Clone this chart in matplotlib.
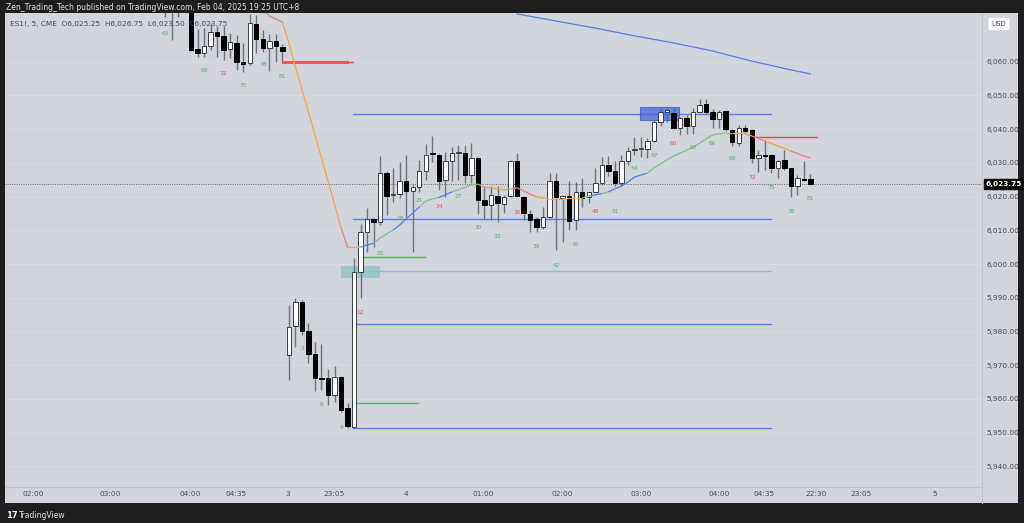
import numpy as np
import matplotlib
matplotlib.use("Agg")
import matplotlib.pyplot as plt
from matplotlib.patches import Rectangle
from matplotlib.collections import LineCollection
import matplotlib.transforms as mtrans

# ── DATA ──────────────────────────────────────────────────────────────────
opens = [6079, 6075.5, 6078, 6076, 6076, 6063.75, 6062.5, 6064.75, 6068.75, 6067.75,
         6063.75, 6065.5, 6060, 6059.5, 6071.25, 6066.75, 6064, 6066.25, 6064.5,
         5973, 5981.5, 5988.75, 5980, 5973.25, 5966.25, 5966.25, 5961, 5966.5, 5957.25, 5951.75,
         5997.5, 6009.5, 6013.5, 6012.5, 6027, 6020.5, 6020.75, 6024.75, 6021.75, 6022.75,
         6027.5, 6032.75, 6032.25, 6025, 6030.5, 6033, 6033, 6026.5, 6031.5,
         6019, 6017.5, 6020.25, 6017.75, 6020.25, 6030.5, 6020, 6014.75, 6013.25, 6011,
         6014, 6024.5, 6019.5, 6020.25, 6013, 6021.5, 6019.75, 6021.5, 6024, 6029.5, 6027.5,
         6024, 6030.5, 6033.75, 6034, 6034, 6036.5, 6042, 6045.25, 6044.75, 6040.5,
         6043.25, 6041, 6045, 6047.5, 6045.25, 6043, 6045.5, 6039.75, 6036, 6040.5,
         6039.75, 6031.5, 6032.25, 6032.25, 6028.5, 6030.75, 6028.5, 6023, 6025.25, 6025.25]
highs = [6081, 6080, 6080, 6079, 6079, 6069.75, 6070, 6071.5, 6070.75, 6070.75,
         6068.5, 6068, 6065.5, 6074.25, 6074, 6069.5, 6068.25, 6068.25, 6065.25,
         5987.75, 5990, 5989.25, 5982.5, 5976.75, 5976.25, 5968.75, 5969.75, 5966.75, 5958.75, 6001.75,
         6012, 6016.5, 6013.75, 6032, 6027.5, 6028.5, 6030.25, 6032.25, 6023.5, 6031,
         6035.5, 6038, 6032.5, 6033.25, 6034.75, 6035.25, 6035.25, 6036, 6031.75,
         6023, 6023, 6023, 6020.5, 6031, 6033, 6020.25, 6016, 6014, 6017,
         6027, 6027, 6020.5, 6024.5, 6024.25, 6025.5, 6021.5, 6028.5, 6031.75, 6032, 6030.5,
         6032.25, 6034.75, 6037.75, 6037.75, 6037.5, 6042.75, 6046.25, 6046.25, 6046.25, 6043.5,
         6044.25, 6046.25, 6049, 6049, 6046, 6045.75, 6045.75, 6040, 6041.25, 6041.25,
         6040, 6033.75, 6036.75, 6032.5, 6031, 6033.75, 6028.5, 6026.5, 6030.5, 6026.75]
lows = [6073.25, 6066.5, 6073.25, 6074.75, 6063.25, 6061.5, 6061.5, 6063.5, 6061.5, 6060.5,
        6061, 6057.5, 6057, 6059, 6062.75, 6063, 6057.25, 6060, 6060,
        5965.5, 5975.5, 5979, 5970.5, 5962.25, 5962.5, 5958.25, 5959, 5956, 5951.25, 5951.25,
        5990, 6003.5, 6005, 6011.5, 6014.5, 6018.5, 6019.5, 6014, 6003.5, 6021.5,
        6025, 6030.25, 6022, 6020, 6024.5, 6025, 6024, 6024, 6014.75,
        6013.5, 6013, 6012.5, 6015, 6020, 6020, 6013, 6009.5, 6009.5, 6010.5,
        6013.75, 6004.25, 6006.5, 6010, 6010, 6017, 6018, 6021, 6023.5, 6026, 6023,
        6023, 6029.5, 6032.25, 6031.75, 6031.5, 6036.25, 6041, 6042.25, 6040, 6038.25,
        6038.5, 6038.5, 6044.75, 6044.5, 6040.25, 6040.25, 6039.5, 6035, 6035, 6039,
        6030, 6027.25, 6028, 6027, 6025.5, 6028, 6020, 6020.5, 6024.75, 6023.5]
closes = [6077, 6078, 6076, 6077.5, 6063.5, 6062.5, 6064.75, 6068.75, 6067.75, 6063.5,
          6065.75, 6060, 6059.25, 6071.5, 6066.75, 6064, 6066.25, 6064.75, 6063.25,
          5981.25, 5988.75, 5980, 5973.25, 5966.25, 5966, 5961.25, 5966.5, 5956.75, 5952, 5997.75,
          6009.5, 6013.5, 6012.5, 6027, 6020.25, 6020.75, 6024.75, 6021.75, 6022.75, 6027.5,
          6032.25, 6032.5, 6024.75, 6030.5, 6033, 6033.25, 6026.5, 6031.5, 6019,
          6017.5, 6020.5, 6018, 6020, 6030.5, 6020.25, 6015, 6013, 6011, 6014,
          6024.5, 6019.75, 6020.25, 6012.75, 6021.25, 6019.5, 6021.25, 6024, 6029.5, 6027.5, 6024,
          6030.5, 6033.5, 6034, 6034.25, 6036.5, 6042, 6045, 6045.5, 6040.5, 6043.25,
          6041, 6045, 6047.25, 6045.25, 6043, 6045.25, 6040, 6036.25, 6040.5, 6039.5,
          6031.5, 6032.25, 6032, 6028.5, 6030.5, 6028.5, 6023, 6025.5, 6025, 6023.75]

# colored moving average, bars 15..99
ma_start = 15
ma_vals = [6075.4, 6073.6, 6072.7, 6071.8, 6065.6, 6058.5, 6051.9, 6045.1, 6038.3, 6031.5,
           6024.6, 6017.8, 6010.7, 6005.0, 6004.9, 6005.0, 6005.6, 6006.2, 6007.7, 6008.9,
           6010.1, 6011.6, 6013.4, 6015.1, 6016.9, 6018.7, 6019.3, 6019.7, 6020.5, 6021.4,
           6022.0, 6022.8, 6023.4, 6023.7, 6022.8, 6022.6, 6022.3, 6022.0, 6022.3, 6022.6,
           6021.7, 6020.8, 6019.9, 6019.6, 6019.3, 6019.3, 6019.3, 6019.4, 6019.6, 6019.6,
           6020.2, 6020.5, 6020.9, 6021.4, 6022.3, 6023.1, 6024.3, 6025.8, 6026.4, 6027.0,
           6028.5, 6029.7, 6030.9, 6032.0, 6032.9, 6033.8, 6034.7, 6035.9, 6037.1, 6038.3,
           6038.6, 6038.9, 6038.9, 6038.9, 6038.6, 6038.0, 6037.2, 6036.5, 6035.8, 6035.0,
           6034.3, 6033.5, 6032.8, 6032.0, 6031.5]
ma_trend = ("rrr" + "ooooooooo" + "r" + "oo" + "bb" + "ggg" + "bbbb" + "ggg" + "bb" + "gggg"
            + "oooo" + "g" + "rrrr" + "ooooooo" + "g" + "bb" + "g" + "bbbbbb"
            + "ggggggggggggg" + "ooo" + "rr" + "oooo" + "rrr")

# slow average (top right)
slow_bars = [54, 60, 66, 72, 78, 84, 90, 96, 99]
slow_vals = [6074.2, 6072.1, 6070.0, 6067.7, 6065.6, 6063.2, 6060.2, 6057.6, 6056.4]

# bar count labels
count_bars = [0, 6, 9, 12, 15, 18, 21, 24, 27, 30, 33, 36, 39, 42, 45, 48, 51, 54, 57, 60,
              63, 66, 69, 72, 75, 78, 81, 84, 87, 90, 93, 96, 99]
count_nums = [63, 69, 72, 75, 78, 81, 3, 6, 9, 12, 15, 18, 21, 24, 27, 30, 33, 36, 39, 42,
              45, 48, 51, 54, 57, 60, 63, 66, 69, 72, 75, 78, 81]
count_lvls = [6068.5, 6057.3, 6056.4, 6053.1, 6059.3, 6055.5, 5974.8, 5958.2, 5951.6, 5985.5,
              6003.0, 6013.6, 6018.7, 6017.2, 6019.9, 6010.7, 6008.3, 6015.4, 6005.3, 5999.7,
              6005.9, 6015.7, 6015.7, 6028.2, 6032.3, 6035.9, 6034.7, 6035.9, 6031.2, 6025.8,
              6022.8, 6015.7, 6019.3]

# drawn horizontal levels: price, from bar, to bar, kind
lvl_price = [6044.5, 6013.25, 5997.9, 5982.25, 5951.25, 6002.0, 5958.75, 6037.75]
lvl_from = [28.8, 28.8, 30.2, 29.3, 28.8, 30.2, 29.3, 90.0]
lvl_to = [92.9, 92.9, 92.9, 92.9, 92.9, 39.9, 38.8, 100.0]
lvl_kind = ["blue", "blue", "pale", "blue", "blue", "green", "green", "red"]

# time axis
time_pos = [-20.2, -8.4, 3.8, 10.9, 18.9, 25.9, 37.0, 48.8, 60.9, 73.0, 85.0, 91.9, 99.8, 106.7, 118.0]
time_lbl = ["02:00", "03:00", "04:00", "04:35", "3", "23:05", "4", "01:00", "02:00",
            "03:00", "04:00", "04:35", "22:30", "23:05", "5"]
price_ticks = np.arange(5940, 6061, 10)
last_price = 6023.75

# ── STYLE ─────────────────────────────────────────────────────────────────
BG = "#d1d4dc"
DARK = "#1e1e1e"
TXT = "#4a4d57"
COL = {"o": "#f5a33a", "g": "#7cc47f", "b": "#4f7cf0", "r": "#f27b80"}
LVL = {"blue": "#5a7ee8", "pale": "#9db6cc", "green": "#5fb86a", "red": "#e2474f"}

W, H = 1024, 523

def box(x0, y0, x1, y1):
    return [x0 / W, 1 - y1 / H, (x1 - x0) / W, (y1 - y0) / H]

fig = plt.figure(figsize=(W / 100, H / 100), dpi=100, facecolor=DARK)
bg = fig.add_axes(box(5, 13, 1018, 503))
bg.set_facecolor(BG)
bg.set_xticks([])
bg.set_yticks([])
for s in bg.spines.values():
    s.set_visible(False)

ax = fig.add_axes(box(5, 13, 982, 487))
ax.set_facecolor(BG)
ax.set_xlim(-24.54, 125.31)
ax.set_ylim(5933.83, 6074.48)

# grid
for p in price_ticks:
    ax.axhline(p, color="#d9dce2", lw=0.6, zorder=0)

# ── CANDLES ───────────────────────────────────────────────────────────────
o = np.array(opens); h = np.array(highs); l = np.array(lows); c = np.array(closes)
x = np.arange(len(o))
ax.vlines(x, l, h, color="#6f727c", lw=1.0, zorder=2)
bot = np.minimum(o, c)
hgt = np.maximum(np.abs(c - o), 0.3)
up = c >= o
ax.bar(x[up], hgt[up], bottom=bot[up], width=0.68, color="white",
       edgecolor="#3a3d46", lw=0.7, zorder=3)
ax.bar(x[~up], hgt[~up], bottom=bot[~up], width=0.68, color="black",
       edgecolor="black", lw=0.7, zorder=3)

# ── AVERAGES ──────────────────────────────────────────────────────────────
mx = np.arange(ma_start, ma_start + len(ma_vals))
segs = [[(mx[k], ma_vals[k]), (mx[k + 1], ma_vals[k + 1])] for k in range(len(ma_vals) - 1)]
ax.add_collection(LineCollection(segs, colors=[COL[t] for t in ma_trend], lw=0.9, zorder=4))
ax.plot(slow_bars, slow_vals, color="#5a7ee8", lw=0.9, zorder=1)

# ── DRAWINGS ─────────────────────────────────────────────────────────────
for p, a, b, k in zip(lvl_price, lvl_from, lvl_to, lvl_kind):
    ax.plot([a, b], [p, p], color=LVL[k], lw=1.0, zorder=1.5)
ax.plot([18.1, 27.9], [6060, 6060], color="#f0504f", lw=2.0, zorder=1.5)
ax.plot([27.9, 28.8], [6060, 6060], color="#f0504f", lw=1.0, zorder=1.5)

ax.add_patch(Rectangle((72.9, 6042.75), 6.0, 3.75, facecolor="#4468d8", alpha=0.75,
                       edgecolor="#3558c8", lw=0.8, zorder=2.5))
ax.add_patch(Rectangle((27.0, 5995.75), 6.0, 3.75, facecolor="#8ec6c4", alpha=0.85,
                       edgecolor="none", zorder=1.2))

# count labels
for b, n, p in zip(count_bars, count_nums, count_lvls):
    ax.text(b, p, str(n), fontsize=4.2, ha="center", va="center",
            color="#e8575a" if n % 12 == 0 else "#55b35c", zorder=5)

# last price
ax.axhline(last_price, color="#5a5d66", lw=0.6, ls=(0, (1.2, 1.5)), zorder=1)
tr = mtrans.blended_transform_factory(ax.transAxes, ax.transData)
ax.text(1.0035, last_price, "6,023.75", transform=tr, fontsize=5.3, color="white",
        fontweight="bold", va="center", ha="left", clip_on=False,
        bbox=dict(boxstyle="square,pad=0.25", fc="black", ec="black"))

# ── AXES ──────────────────────────────────────────────────────────────────
ax.yaxis.tick_right()
ax.set_yticks(price_ticks)
ax.set_yticklabels([f"{p:,.2f}" for p in price_ticks])
ax.set_xticks(time_pos)
ax.set_xticklabels(time_lbl)
ax.tick_params(axis="y", length=0, pad=3.2, labelsize=5.3, labelcolor=TXT)
ax.tick_params(axis="x", length=0, pad=3.2, labelsize=5.3, labelcolor=TXT)
for s in ["top", "left"]:
    ax.spines[s].set_visible(False)
ax.spines["right"].set_color("#bfc2ca")
ax.spines["bottom"].set_color("#bfc2ca")
ax.spines["right"].set_linewidth(0.8)
ax.spines["bottom"].set_linewidth(0.8)
fig.add_artist(plt.Line2D([982 / W, 982 / W], [1 - 503 / H, 1 - 487 / H],
                          color="#bfc2ca", lw=0.8))

# ── TEXT ──────────────────────────────────────────────────────────────────
fig.text(6 / W, 1 - 7 / H, "Zen_Trading_Tech published on TradingView.com, Feb 04, 2025 19:25 UTC+8",
         color="#e0e0e0", fontsize=5.5, va="center", ha="left")
fig.text(10 / W, 1 - 24 / H, "ES1!, 5, CME  O6,025.25  H6,026.75  L6,023.50  C6,023.75",
         color="#4a4d57", fontsize=5.3, va="center", ha="left")
fig.text(999 / W, 1 - 24 / H, "USD", color="#4a4d57", fontsize=5.0, va="center", ha="center",
         bbox=dict(boxstyle="round,pad=0.45,rounding_size=0.2", fc="white", ec="none"))
fig.text(6 / W, 1 - 515 / H, "17", color="white", fontsize=6, fontweight="bold",
         va="center", ha="left")
fig.text(19 / W, 1 - 515 / H, "TradingView", color="#e0e0e0", fontsize=5.5,
         va="center", ha="left")

plt.savefig("out.png", dpi=100, facecolor=DARK)
